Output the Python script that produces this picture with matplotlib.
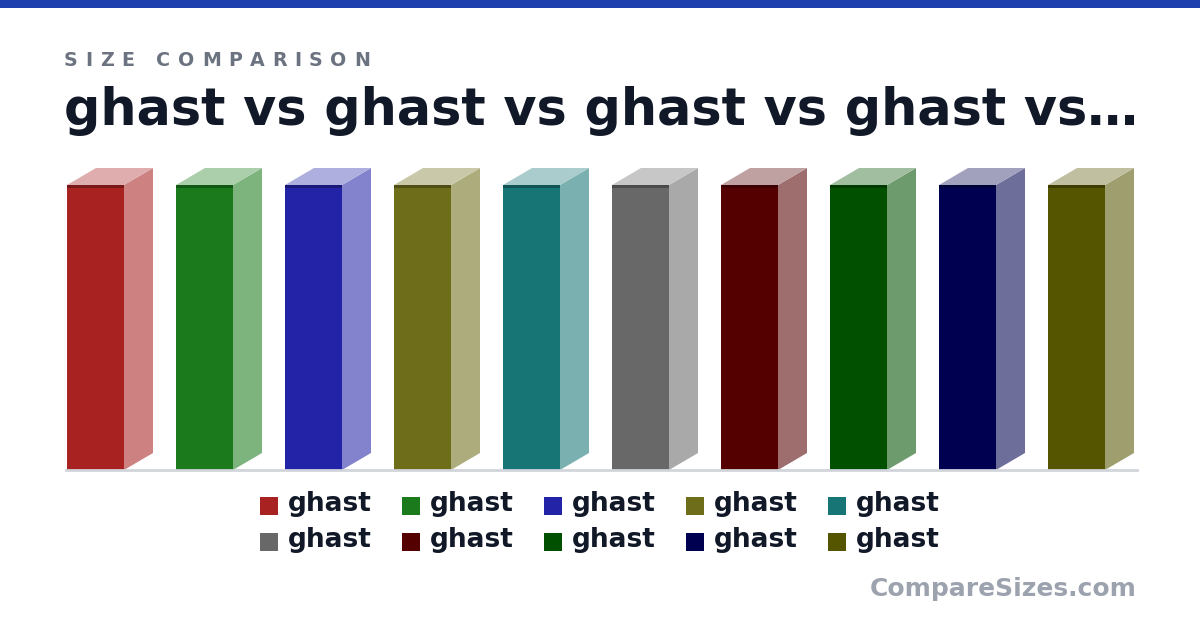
import matplotlib
matplotlib.use("Agg")
import matplotlib.pyplot as plt
from matplotlib.patches import Polygon, Rectangle
from matplotlib.colors import to_rgb
import numpy as np

# ---- data ----
names = ["ghast"] * 10
values = [1, 1, 1, 1, 1, 1, 1, 1, 1, 1]
colors = ["#a82222", "#1b7a1b", "#2323a8", "#6e6e1a", "#187575",
          "#686868", "#550000", "#005000", "#000050", "#555500"]
title = "ghast vs ghast vs ghast vs ghast vs\u2026"
subtitle = "SIZE COMPARISON"
watermark = "CompareSizes.com"

W, H = 1200, 630
fig = plt.figure(figsize=(W / 100, H / 100), dpi=100)
fig.patch.set_facecolor("white")

def px(x0, y0, x1, y1):
    # pixel box (top-left origin) -> figure fraction rect
    return [x0 / W, 1 - y1 / H, (x1 - x0) / W, (y1 - y0) / H]

# top band
band = fig.add_axes(px(0, 0, W, 8))
band.set_axis_off()
band.add_patch(Rectangle((0, 0), 1, 1, color="#1e40af", transform=band.transAxes))

# ---- bars axes ----
ax_l, ax_r, ax_t, ax_b = 66, 1137, 160, 470
ax = fig.add_axes(px(ax_l, ax_t, ax_r, ax_b))
ax.set_axis_off()
unit_x = 109.0           # pixels per slot
bar_top_px = 185
ax.set_xlim(0, (ax_r - ax_l) / unit_x)
ymax = max(values) * (ax_b - ax_t) / (ax_b - bar_top_px)
ax.set_ylim(0, ymax)

bar_w = 57 / unit_x
off = 1 / unit_x
dx = 29 / unit_x
dy = 17 * ymax / (ax_b - ax_t)
strip = 3 * ymax / (ax_b - ax_t)

def mix(c, f):
    r = np.array(to_rgb(c))
    return tuple(r + (1 - r) * f)

def dark(c, f):
    r = np.array(to_rgb(c))
    return tuple(r * f)

x = np.arange(len(values)) + off
ax.bar(x, values, width=bar_w, align="edge", color=colors, linewidth=0, zorder=3)
for xi, v, c in zip(x, values, colors):
    # side face
    ax.add_patch(Polygon([(xi + bar_w, 0), (xi + bar_w + dx, dy),
                          (xi + bar_w + dx, v + dy), (xi + bar_w, v)],
                         closed=True, facecolor=mix(c, 0.43), edgecolor="none", zorder=2))
    # top face
    ax.add_patch(Polygon([(xi, v), (xi + dx, v + dy), (xi + bar_w + dx, v + dy),
                          (xi + bar_w, v)],
                         closed=True, facecolor=mix(c, 0.63), edgecolor="none", zorder=2))
    # dark strip at top of front
    ax.add_patch(Rectangle((xi, v - strip), bar_w, strip, facecolor=dark(c, 0.72),
                           edgecolor="none", zorder=4))

# baseline
ax.axhline(0, color="#d1d5db", lw=2, zorder=5, clip_on=False)

# ---- texts ----
fig.text(64 / W, 1 - 125 / H, title, fontsize=36.6, fontweight="bold",
         color="#111827", ha="left", va="baseline", family="DejaVu Sans")

# letter-spaced subtitle
fig.canvas.draw()
renderer = fig.canvas.get_renderer()
cx = 64.0
spacing = 7.6
for ch in subtitle:
    t = fig.text(cx / W, 1 - 66 / H, ch, fontsize=13.7, fontweight="bold",
                 color="#6b7280", ha="left", va="baseline", family="DejaVu Sans")
    if ch == " ":
        w = 0.348 * 13.7 / 0.72
    else:
        w = t.get_window_extent(renderer).width
    cx += w + spacing

# legend
leg_x0 = 260
leg_dx = 142
row_y = [506, 542]
for i, (n, c) in enumerate(zip(names, colors)):
    r, col = divmod(i, 5)
    lx = leg_x0 + col * leg_dx
    ly = row_y[r]
    fig.patches.append(Rectangle((lx / W, 1 - (ly + 9) / H), 18 / W, 18 / H,
                                 facecolor=c, edgecolor="none",
                                 transform=fig.transFigure, figure=fig))
    fig.text((lx + 28) / W, 1 - (ly + 5) / H, n, fontsize=19, fontweight="bold",
             color="#111827", ha="left", va="baseline", family="DejaVu Sans")

fig.text(1137 / W, 1 - 596 / H, watermark, fontsize=18, fontweight="bold",
         color="#9ca3af", ha="right", va="baseline", family="DejaVu Sans")

fig.savefig("out.png", dpi=100, facecolor="white")
